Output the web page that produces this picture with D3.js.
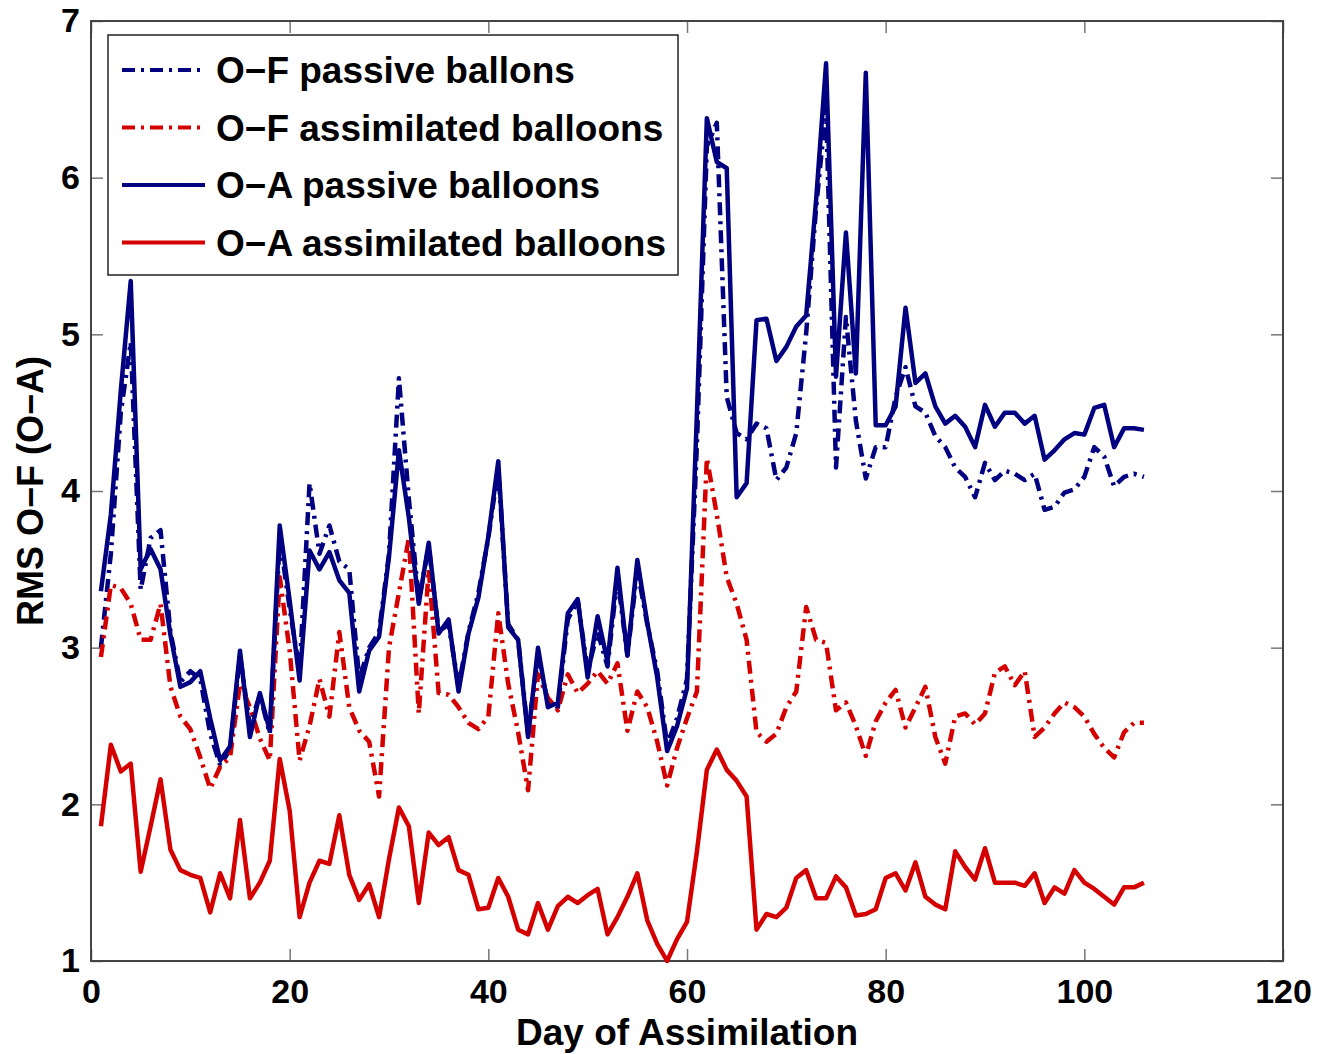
<!DOCTYPE html>
<html>
<head>
<meta charset="utf-8">
<script src="https://cdn.jsdelivr.net/npm/d3@7"></script>
<style>
  body { margin: 0; background: #fff; }
  svg text { font-family: "Liberation Sans", Arial, sans-serif; font-weight: bold; fill: #000; }
</style>
</head>
<body>
<svg id="chart" width="1321" height="1054"></svg>
<script>
// day index 1..106
const days = d3.range(1, 107);

const ofPassive = [
  3.00, 3.60, 4.50, 4.95, 3.37, 3.70, 3.75, 3.10, 2.78, 2.85,
  2.80, 2.45, 2.25, 2.35, 2.95, 2.50, 2.70, 2.45, 3.70, 3.25,
  2.85, 4.05, 3.60, 3.78, 3.55, 3.50, 2.80, 3.00, 3.10, 3.60,
  4.72, 3.95, 3.30, 3.65, 3.10, 3.15, 2.75, 3.10, 3.35, 3.70,
  4.15, 3.15, 3.05, 2.45, 2.95, 2.65, 2.62, 3.18, 3.30, 2.85,
  3.10, 2.88, 3.45, 2.95, 3.50, 3.15, 2.85, 2.38, 2.55, 2.80,
  4.30, 6.20, 6.35, 4.60, 4.37, 4.33, 4.43, 4.40, 4.07, 4.15,
  4.37, 5.01, 5.81, 6.45, 4.15, 5.11, 4.45, 4.08, 4.28, 4.28,
  4.60, 4.79, 4.54, 4.50, 4.35, 4.28, 4.15, 4.09, 3.96, 4.18,
  4.07, 4.13, 4.11, 4.07, 4.11, 3.88, 3.90, 3.99, 4.01, 4.09,
  4.28, 4.22, 4.03, 4.09, 4.11, 4.09
];

const ofAssim = [
  2.94, 3.40, 3.38, 3.28, 3.05, 3.05, 3.28, 2.75, 2.56, 2.48,
  2.30, 2.10, 2.24, 2.30, 2.77, 2.62, 2.42, 2.28, 3.45, 2.98,
  2.28, 2.50, 2.80, 2.56, 3.10, 2.62, 2.47, 2.40, 2.05, 3.00,
  3.35, 3.70, 2.58, 3.50, 2.71, 2.70, 2.62, 2.52, 2.48, 2.56,
  3.22, 2.77, 2.46, 2.09, 2.83, 2.68, 2.60, 2.83, 2.71, 2.77,
  2.85, 2.77, 2.90, 2.47, 2.72, 2.62, 2.40, 2.12, 2.36, 2.55,
  2.72, 4.21, 3.85, 3.45, 3.28, 3.05, 2.46, 2.40, 2.45, 2.62,
  2.72, 3.26, 3.05, 3.03, 2.60, 2.65, 2.50, 2.31, 2.53, 2.65,
  2.73, 2.49, 2.62, 2.75, 2.43, 2.26, 2.56, 2.58, 2.51, 2.58,
  2.84, 2.88, 2.76, 2.85, 2.43, 2.49, 2.58, 2.65, 2.62, 2.56,
  2.45, 2.36, 2.30, 2.46, 2.52, 2.52
];

const oaPassive = [
  3.36, 3.85, 4.64, 5.34, 3.50, 3.63, 3.50, 3.08, 2.75, 2.78,
  2.85, 2.55, 2.28, 2.37, 2.98, 2.43, 2.71, 2.47, 3.78, 3.30,
  2.79, 3.62, 3.50, 3.61, 3.43, 3.35, 2.72, 2.98, 3.07, 3.58,
  4.26, 3.83, 3.28, 3.67, 3.09, 3.18, 2.72, 3.09, 3.32, 3.71,
  4.19, 3.13, 3.05, 2.43, 3.00, 2.62, 2.65, 3.22, 3.31, 2.81,
  3.20, 2.91, 3.51, 2.95, 3.56, 3.16, 2.81, 2.34, 2.50, 2.74,
  4.50, 6.38, 6.10, 6.06, 3.96, 4.05, 5.09, 5.10, 4.83, 4.92,
  5.05, 5.12, 5.86, 6.73, 4.73, 5.65, 4.75, 6.67, 4.42, 4.42,
  4.54, 5.17, 4.69, 4.75, 4.54, 4.43, 4.48, 4.41, 4.28, 4.55,
  4.41, 4.50, 4.50, 4.43, 4.48, 4.20, 4.26, 4.33, 4.37, 4.36,
  4.53, 4.55, 4.28, 4.40, 4.40, 4.39
];

const oaAssim = [
  1.86, 2.38, 2.21, 2.26, 1.57, 1.86, 2.16, 1.71, 1.58, 1.55,
  1.53, 1.31, 1.56, 1.40, 1.90, 1.40, 1.50, 1.64, 2.29, 1.96,
  1.28, 1.50, 1.64, 1.62, 1.93, 1.55, 1.39, 1.49, 1.28, 1.65,
  1.98, 1.86, 1.37, 1.82, 1.74, 1.79, 1.58, 1.55, 1.33, 1.34,
  1.53, 1.41, 1.20, 1.17, 1.37, 1.20, 1.35, 1.41, 1.37, 1.42,
  1.46, 1.17, 1.28, 1.41, 1.56, 1.26, 1.11, 1.00, 1.14, 1.25,
  1.70, 2.22, 2.35, 2.22, 2.15, 2.05, 1.20, 1.30, 1.28, 1.34,
  1.53, 1.58, 1.40, 1.40, 1.54, 1.47, 1.29, 1.30, 1.33, 1.53,
  1.56, 1.45, 1.63, 1.41, 1.36, 1.33, 1.70, 1.60, 1.52, 1.72,
  1.50, 1.50, 1.50, 1.48, 1.56, 1.37, 1.47, 1.43, 1.58, 1.50,
  1.46, 1.41, 1.36, 1.47, 1.47, 1.50
];

const xTicks = [0, 20, 40, 60, 80, 100, 120];
const yTicks = [1, 2, 3, 4, 5, 6, 7];

const navy = '#000080';
const red = '#d40000';
const dashDot = '13,6,3,6';

const series = [
  { label: 'O\u2212F passive ballons', values: ofPassive, color: navy, dash: dashDot },
  { label: 'O\u2212F assimilated balloons', values: ofAssim, color: red, dash: dashDot },
  { label: 'O\u2212A passive balloons', values: oaPassive, color: navy, dash: null },
  { label: 'O\u2212A assimilated balloons', values: oaAssim, color: red, dash: null },
];

const margin = { top: 21, right: 38, bottom: 93, left: 91 };
const width = 1321 - margin.left - margin.right;
const height = 1054 - margin.top - margin.bottom;

const svg = d3.select('#chart');
const g = svg.append('g').attr('transform', `translate(${margin.left},${margin.top})`);

const x = d3.scaleLinear().domain([0, 120]).range([0, width]);
const y = d3.scaleLinear().domain([1, 7]).range([height, 0]);

const axisColor = '#444';
const fmt = d3.format('d');

function styleAxis(sel, showLabels) {
  sel.select('.domain').remove();
  sel.selectAll('.tick line').attr('stroke', '#777').attr('stroke-width', 1.5);
  if (!showLabels) sel.selectAll('.tick text').remove();
  else sel.selectAll('.tick text').attr('font-size', 34).attr('fill', '#000');
}

g.append('g')
  .attr('transform', `translate(0,${height})`)
  .call(d3.axisBottom(x).tickValues(xTicks).tickFormat(fmt).tickSizeInner(-12).tickSizeOuter(0).tickPadding(18))
  .call(s => styleAxis(s, true));

g.append('g')
  .call(d3.axisTop(x).tickValues(xTicks).tickSizeInner(-12).tickSizeOuter(0))
  .call(s => styleAxis(s, false));

g.append('g')
  .call(d3.axisLeft(y).tickValues(yTicks).tickFormat(fmt).tickSizeInner(-12).tickSizeOuter(0).tickPadding(11))
  .call(s => styleAxis(s, true));

g.append('g')
  .attr('transform', `translate(${width},0)`)
  .call(d3.axisRight(y).tickValues(yTicks).tickSizeInner(-12).tickSizeOuter(0))
  .call(s => styleAxis(s, false));

g.append('rect')
  .attr('width', width)
  .attr('height', height)
  .attr('fill', 'none')
  .attr('stroke', axisColor)
  .attr('stroke-width', 2);

const line = d3.line()
  .x((d, i) => x(days[i]))
  .y(d => y(d));

series.forEach((s) => {
  g.append('path')
    .datum(s.values)
    .attr('d', line)
    .attr('fill', 'none')
    .attr('stroke', s.color)
    .attr('stroke-width', 4.5)
    .attr('stroke-linejoin', 'round')
    .attr('stroke-dasharray', s.dash);
});

// legend
const legend = g.append('g').attr('transform', 'translate(17,14)');
legend.append('rect')
  .attr('width', 570)
  .attr('height', 240)
  .attr('fill', '#fff')
  .attr('stroke', '#222')
  .attr('stroke-width', 1.5);

series.forEach((s, i) => {
  const ly = 35 + i * 57.5;
  legend.append('line')
    .attr('x1', 14).attr('x2', 97)
    .attr('y1', ly).attr('y2', ly)
    .attr('stroke', s.color)
    .attr('stroke-width', 4)
    .attr('stroke-dasharray', s.dash);
  legend.append('text')
    .attr('x', 108)
    .attr('y', ly)
    .attr('dy', '0.36em')
    .attr('font-size', 37)
    .text(s.label);
});

// axis titles
svg.append('text')
  .attr('x', margin.left + x(60))
  .attr('y', 1045)
  .attr('text-anchor', 'middle')
  .attr('font-size', 37)
  .text('Day of Assimilation');

svg.append('text')
  .attr('transform', `translate(43,${margin.top + y(4)}) rotate(-90)`)
  .attr('text-anchor', 'middle')
  .attr('font-size', 36)
  .text('RMS O\u2212F (O\u2212A)');
</script>
</body>
</html>
